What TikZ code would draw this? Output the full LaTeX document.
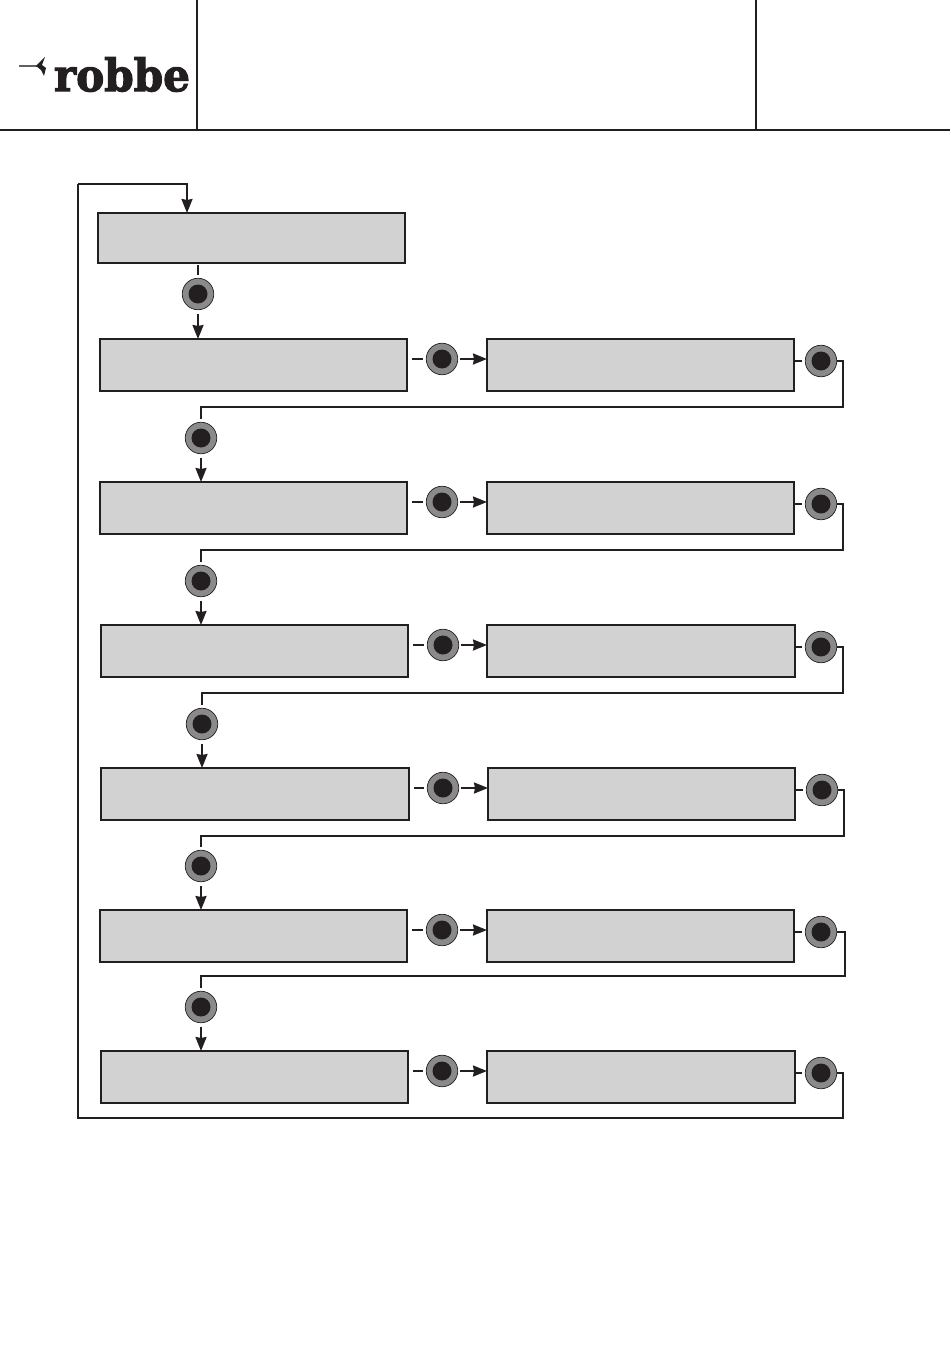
\documentclass[tikz,border=0pt]{standalone}
\usepackage{fontspec}
\usepackage{xcolor}
\usetikzlibrary{arrows.meta}
\newfontfamily\logofont{DejaVu Serif}[BoldFont={DejaVu Serif Bold},BoldFeatures={FakeBold=2.5}]
\definecolor{ink}{HTML}{231F20}
\definecolor{panel}{HTML}{D2D2D2}
\definecolor{ring}{HTML}{8A8A8A}
\begin{document}
\begin{tikzpicture}[x=1pt, y=-1pt, >={Stealth[length=14pt,width=11pt,inset=1pt]},
    box/.style={draw=ink, fill=panel, line width=2pt, rectangle, inner sep=0pt, outer sep=0pt},
    btn/.style={draw=ink, fill=ring, line width=0.7pt, circle, minimum size=31.5pt, inner sep=0pt, outer sep=0pt,
        path picture={\fill[ink] (path picture bounding box.center) circle (9.5pt);}},
    wire/.style={draw=ink, line width=2pt},
    stub/.style={wire, shorten >=3pt},
    flow/.style={wire, ->, shorten <=4pt}]
    \useasboundingbox (0,0) rectangle (950,1348);
    % header
    \coordinate (hl) at (0,130);
    \coordinate (hr) at (950,130);
    \coordinate (ha) at (197,0);
    \coordinate (hb) at (756,0);
    \draw[wire] (hl) -- (hr);
    \draw[wire] (ha) -- (ha |- hl);
    \draw[wire] (hb) -- (hb |- hl);
    % logo
    \node[inner sep=0pt, text=ink] (logo) at (122,74.5) {\resizebox{136pt}{34pt}{\logofont\bfseries robbe}};
    \draw[ring!70!black, line width=1.2pt] (19,66) -- (40,66);
    \fill[ink] (36,66) -- (45,57) -- (42,65) -- (46,68) -- (44,76) -- (41,70) -- cycle;
    % boxes
    \node[box, minimum width=307pt, minimum height=50pt] (m0) at (251.5,238) {};
    \node[box, minimum width=307pt, minimum height=52pt] (m1) at (253.5,365) {};
    \node[box, minimum width=307pt, minimum height=52pt] (s1) at (640.5,365) {};
    \node[box, minimum width=307pt, minimum height=52pt] (m2) at (253.5,508) {};
    \node[box, minimum width=307pt, minimum height=52pt] (s2) at (640.5,508) {};
    \node[box, minimum width=307pt, minimum height=52pt] (m3) at (254.5,651) {};
    \node[box, minimum width=308pt, minimum height=52pt] (s3) at (641,651) {};
    \node[box, minimum width=308pt, minimum height=52pt] (m4) at (255,794) {};
    \node[box, minimum width=307pt, minimum height=52pt] (s4) at (641.5,794) {};
    \node[box, minimum width=307pt, minimum height=52pt] (m5) at (253.5,936) {};
    \node[box, minimum width=307pt, minimum height=52pt] (s5) at (640.5,936) {};
    \node[box, minimum width=307pt, minimum height=52pt] (m6) at (254.5,1077) {};
    \node[box, minimum width=308pt, minimum height=52pt] (s6) at (641,1077) {};
    % buttons
    \node[btn] (d0) at (198,294) {};
    \node[btn] (d1) at (201,438) {};
    \node[btn] (d2) at (201,581) {};
    \node[btn] (d3) at (202,724) {};
    \node[btn] (d4) at (201,866) {};
    \node[btn] (d5) at (201,1007) {};
    \node[btn] (a1) at (442,359) {};
    \node[btn] (a2) at (442,502) {};
    \node[btn] (a3) at (443,645) {};
    \node[btn] (a4) at (443,788) {};
    \node[btn] (a5) at (442,930) {};
    \node[btn] (a6) at (442,1071) {};
    \node[btn] (b1) at (821,361) {};
    \node[btn] (b2) at (821,504) {};
    \node[btn] (b3) at (821,647) {};
    \node[btn] (b4) at (822,790) {};
    \node[btn] (b5) at (821,932) {};
    \node[btn] (b6) at (821,1073) {};
    % turning points of the return lines
    \coordinate (t1) at (843,407);
    \coordinate (t2) at (843,550);
    \coordinate (t3) at (843,693);
    \coordinate (t4) at (844,836);
    \coordinate (t5) at (845,976);
    \coordinate (t6) at (843,1118);
    \coordinate (t7) at (78,184);
    \coordinate (t8) at (187,213);
    % first column downwards
    \draw[wire, ->] (t7) -| (t8);
    \draw[stub, shorten <=2pt] (m0.south -| d0) -- (d0);
    \draw[flow] (d0) -- (m1.north -| d0);
    \draw[flow] (d1) -- (m2.north -| d1);
    \draw[flow] (d2) -- (m3.north -| d2);
    \draw[flow] (d3) -- (m4.north -| d3);
    \draw[flow] (d4) -- (m5.north -| d4);
    \draw[flow] (d5) -- (m6.north -| d5);
    % left box to right box
    \draw[stub, shorten <=5pt] (m1.east |- a1) -- (a1);
    \draw[stub, shorten <=5pt] (m2.east |- a2) -- (a2);
    \draw[stub, shorten <=5pt] (m3.east |- a3) -- (a3);
    \draw[stub, shorten <=5pt] (m4.east |- a4) -- (a4);
    \draw[stub, shorten <=5pt] (m5.east |- a5) -- (a5);
    \draw[stub, shorten <=5pt] (m6.east |- a6) -- (a6);
    \draw[flow, shorten <=2pt] (a1) -- (s1.west |- a1);
    \draw[flow, shorten <=2pt] (a2) -- (s2.west |- a2);
    \draw[flow, shorten <=2pt] (a3) -- (s3.west |- a3);
    \draw[flow, shorten <=2pt] (a4) -- (s4.west |- a4);
    \draw[flow, shorten <=2pt] (a5) -- (s5.west |- a5);
    \draw[flow, shorten <=2pt] (a6) -- (s6.west |- a6);
    % right box to last button
    \draw[stub] (s1.east |- b1) -- (b1);
    \draw[stub] (s2.east |- b2) -- (b2);
    \draw[stub] (s3.east |- b3) -- (b3);
    \draw[stub] (s4.east |- b4) -- (b4);
    \draw[stub] (s5.east |- b5) -- (b5);
    \draw[stub] (s6.east |- b6) -- (b6);
    % return lines
    \draw[stub] (b1.east) -| (t1) -| (d1);
    \draw[stub] (b2.east) -| (t2) -| (d2);
    \draw[stub] (b3.east) -| (t3) -| (d3);
    \draw[stub] (b4.east) -| (t4) -| (d4);
    \draw[stub] (b5.east) -| (t5) -| (d5);
    \draw[wire] (b6.east) -| (t6) -| (t7);
\end{tikzpicture}
\end{document}
